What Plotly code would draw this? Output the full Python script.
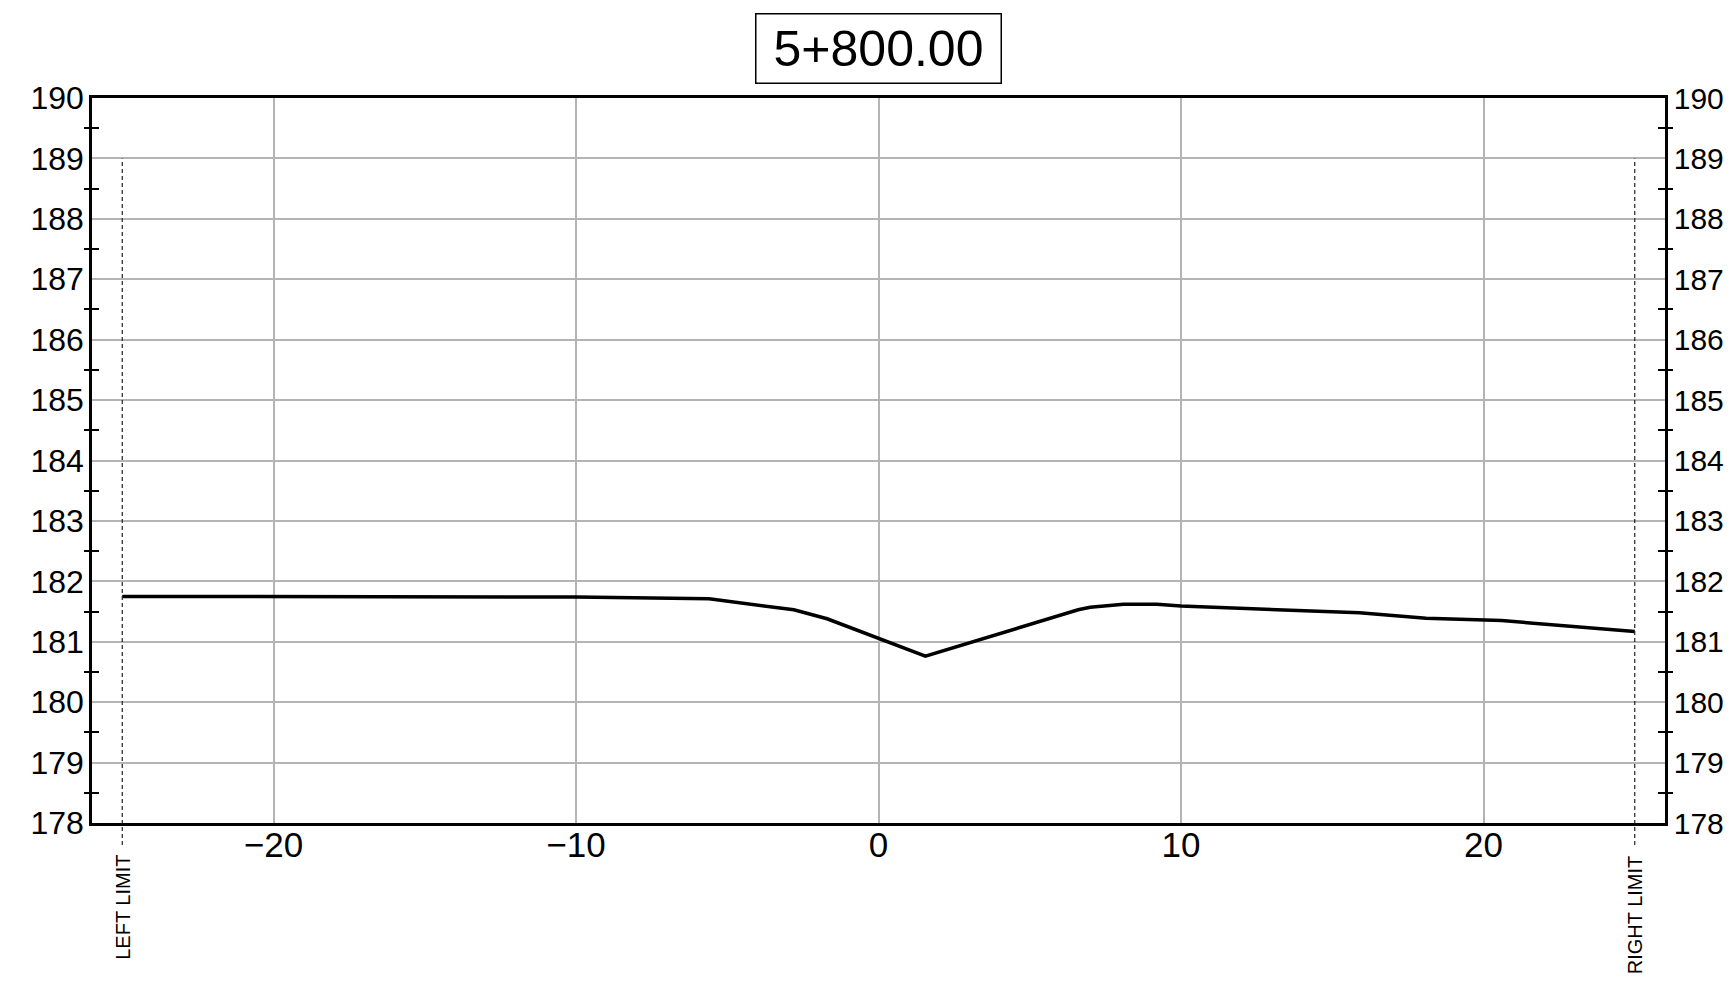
import plotly.graph_objects as go

# ---- data ----
offsets = [-25.0, -20.0, -10.0, -5.6, -2.8, -1.7, 1.55, 6.6, 7.0, 8.1, 9.2, 10.0, 11.7, 15.9, 18.1, 19.3, 20.6, 25.0]
elevations = [181.75, 181.75, 181.74, 181.71, 181.53, 181.38, 180.76, 181.53, 181.57, 181.62, 181.62, 181.59,
              181.56, 181.48, 181.39, 181.37, 181.35, 181.17]
limit_offsets = [-25.0, 25.0]
limit_labels = ["LEFT LIMIT", "RIGHT LIMIT"]
limit_top = 189.0
station = "5+800.00"
y_range = [178, 190]
x_range = [-26, 26]

FONT = "Liberation Sans, Arial, sans-serif"

W, H = 1729, 981
ML, MT = 92, 98
PLOT_W, PLOT_H = 1573, 725
MR = W - ML - PLOT_W
MB = H - MT - PLOT_H

fig = go.Figure()
fig.add_trace(go.Scatter(x=offsets, y=elevations, mode="lines",
                         line=dict(color="black", width=3.5), showlegend=False, hoverinfo="skip"))
# empty traces to bind the auxiliary axes
for ax in ["y2", "y3", "y4"]:
    fig.add_trace(go.Scatter(x=[None], y=[None], yaxis=ax, showlegend=False, hoverinfo="skip"))

minor_out = dict(tick0=0.5, dtick=1, ticks="outside", ticklen=5, tickwidth=2, tickcolor="black", showgrid=False)
minor_in = dict(tick0=0.5, dtick=1, ticks="inside", ticklen=7, tickwidth=2, tickcolor="black", showgrid=False)

common_y = dict(range=y_range, dtick=1, tick0=0, showline=True, linecolor="black", linewidth=2.5,
                zeroline=False, fixedrange=True, automargin=False)

fig.update_layout(
    width=W, height=H,
    margin=dict(l=ML, r=MR, t=MT, b=MB, pad=0, autoexpand=False),
    paper_bgcolor="white", plot_bgcolor="white",
    xaxis=dict(range=x_range, dtick=10, tick0=0, showgrid=True, gridcolor="#b4b4b4", gridwidth=1.5,
               showline=True, linecolor="black", linewidth=2.5, mirror=True, ticks="",
               zeroline=False, tickfont=dict(family=FONT, size=35, color="black"),
               ticklabelstandoff=-11, fixedrange=True, automargin=False),
    yaxis=dict(**common_y, showgrid=True, gridcolor="#b4b4b4", gridwidth=1.5, side="left",
               ticks="", minor=minor_out, ticklabelstandoff=-1,
               tickfont=dict(family=FONT, size=32, color="black")),
    yaxis2=dict(**common_y, showgrid=False, overlaying="y", side="right", anchor="x",
                ticks="", minor=minor_out, ticklabelstandoff=0,
                tickfont=dict(family=FONT, size=30, color="black")),
    yaxis3=dict(range=y_range, overlaying="y", side="left", showgrid=False, showticklabels=False,
                showline=False, zeroline=False, ticks="", minor=minor_in, fixedrange=True, automargin=False),
    yaxis4=dict(range=y_range, overlaying="y", side="right", showgrid=False, showticklabels=False,
                showline=False, zeroline=False, ticks="", minor=minor_in, fixedrange=True, automargin=False),
)

# limit lines & labels
span = y_range[1] - y_range[0]
top_paper = (limit_top - y_range[0]) / span
for off, lab in zip(limit_offsets, limit_labels):
    fig.add_shape(type="line", xref="x", yref="paper", x0=off, x1=off, y0=-22 / PLOT_H, y1=top_paper,
                  line=dict(color="#222222", width=1.2, dash="4px,3px"))
    fig.add_annotation(x=off, xref="x", y=-30 / PLOT_H, yref="paper", text=lab, textangle=-90,
                       showarrow=False, xanchor="center", yanchor="top",
                       font=dict(family=FONT, size=20, color="black"))

# station title box
fig.add_annotation(x=0.5, xref="paper", y=1 + (98 - 48) / PLOT_H, yref="paper", text=station,
                   showarrow=False, font=dict(family=FONT, size=50, color="black"),
                   bordercolor="black", borderwidth=1.5, borderpad=0, bgcolor="white",
                   width=244, height=68, xanchor="center", yanchor="middle")

fig.write_html("out.html", config={"displayModeBar": False},
               post_script="document.body.style.margin='0';document.body.style.overflow='hidden';")
